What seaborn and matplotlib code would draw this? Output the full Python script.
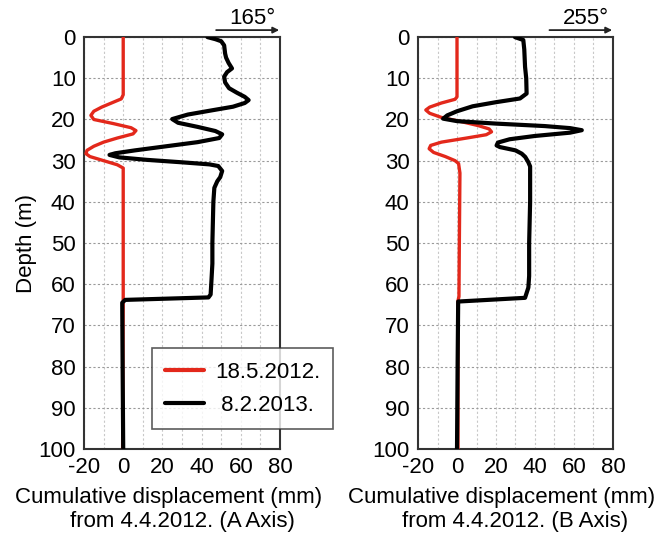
import matplotlib
matplotlib.use("Agg")
import matplotlib.pyplot as plt
import pandas as pd
import seaborn as sns
from matplotlib.ticker import MultipleLocator

# Data (depth in m, displacement in mm)
red_a_depth = [0, 14, 15, 16, 17, 18, 19, 20, 21, 22, 22.7, 23.5, 24.5, 25.5, 26.5, 27.5, 28.3, 29, 30, 31, 31.8, 33, 64, 100]
red_a_disp = [0, 0, -1, -6, -11, -15, -16.5, -15, -5, 4, 6.5, 5, -3, -10, -15, -18.5, -19, -17, -10, -3, 0, 0, 0, -0.3]

black_a_depth = [0, 0.5, 1, 2, 4, 5, 6.3, 7.6, 8.5, 9.6, 11, 12.4, 13.5, 14.5, 15.3, 16, 16.9, 17.8, 18.8, 19.9,
                 20.8, 21.8, 22.8, 23.6, 24.5, 25.5, 26.5, 27.5, 28.2, 28.6, 29.2, 29.8, 30.4, 30.9, 31.3, 32.5,
                 34, 35, 36.6, 40, 50, 55, 59.3, 62.5, 63.2, 63.8, 64.5, 80, 100]
black_a_disp = [43, 47, 50, 51.5, 52, 52.5, 53.8, 55.5, 53, 51.5, 52, 54, 58, 62, 64, 62, 56, 45, 33, 25,
                28, 38, 47, 50.5, 49, 38, 22, 6, -4, -7, -2, 12, 30, 44, 48.5, 50.5,
                49.5, 48, 46.5, 46, 45.5, 45.5, 45, 44.6, 43.5, 1, -0.5, -0.3, 0]

red_b_depth = [0, 14.5, 15.1, 16, 17, 17.7, 18.5, 19.5, 20.5, 21.5, 22.3, 23, 23.7, 24.5, 25.5, 26.3, 27.1, 28, 29, 30, 30.7, 33, 50, 63, 64, 100]
red_b_disp = [0, 0, -1, -8, -14, -16, -14, -8, 2, 11, 16.5, 17.7, 15, 5, -8, -13.5, -14.3, -12, -6, -1, 0.8, 1.5, 1.2, 1, 0.5, 0.5]

black_b_depth = [0, 0.7, 3, 7.2, 10, 13.7, 14.9, 15.8, 16.8, 18, 19, 19.8, 20.4, 21, 21.6, 22.1, 22.6, 23.2, 24,
                 24.8, 25.6, 26.3, 26.7, 27, 27.5, 28.3, 29.1, 30.3, 31.4, 40, 50, 58, 60.8, 63.3, 64.2, 80, 100]
black_b_disp = [29.7, 34, 34.5, 34.9, 35.5, 35.7, 32.3, 20, 8, 0, -5, -7.1, 0, 20, 45, 58, 64, 58, 40,
                27, 21, 20.3, 22, 25, 30, 33.2, 35, 36.5, 37.5, 37.5, 37, 37, 36.6, 34.9, 0.6, 0.3, 0]

labels = ["18.5.2012.", " 8.2.2013."]
panels = [
    ("A", "165°", red_a_depth, red_a_disp, black_a_depth, black_a_disp),
    ("B", "255°", red_b_depth, red_b_disp, black_b_depth, black_b_disp),
]

sns.set_style("white", rc={"text.color": "black", "axes.labelcolor": "black",
                           "xtick.color": "black", "ytick.color": "black"})
plt.rcParams["font.family"] = ["Liberation Sans", "DejaVu Sans"]
plt.rcParams["axes.unicode_minus"] = False

fig = plt.figure(figsize=(6.7, 5.37), dpi=100)
ax_a = fig.add_axes([0.1254, 0.1639, 0.2925, 0.767])
ax_b = fig.add_axes([0.6239, 0.1639, 0.2910, 0.767])

for ax, (axis_name, angle, rd, rx, bd, bx) in zip([ax_a, ax_b], panels):
    red = pd.DataFrame({"depth": rd, "disp": rx})
    black = pd.DataFrame({"depth": bd, "disp": bx})
    sns.lineplot(data=red, x="disp", y="depth", sort=False, estimator=None,
                 color="#e3281b", lw=2.4, ax=ax, label=labels[0], zorder=3)
    sns.lineplot(data=black, x="disp", y="depth", sort=False, estimator=None,
                 color="black", lw=3, ax=ax, label=labels[1], zorder=4)

    ax.set_xlim(-20, 80)
    ax.set_ylim(100, 0)
    ax.xaxis.set_major_locator(MultipleLocator(20))
    ax.xaxis.set_minor_locator(MultipleLocator(10))
    ax.yaxis.set_major_locator(MultipleLocator(10))
    ax.grid(True, which="major", axis="y", color="#9a9a9a", ls=(0, (2, 2)), lw=0.8)
    ax.grid(True, which="both", axis="x", color="#c8c8c8", ls=(0, (2, 2)), lw=0.8)
    ax.tick_params(axis="both", which="both", length=0, labelsize=16, pad=6)
    for s in ax.spines.values():
        s.set_color("#333333")
        s.set_linewidth(1.5)

    # two-line axis title; the first line sits a little left of centre
    ax.set_xlabel("")
    ax.text(0.43, -0.117, "Cumulative displacement (mm)", transform=ax.transAxes,
            ha="center", va="center", fontsize=16)
    ax.text(0.5, -0.175, "from 4.4.2012. (%s Axis)" % axis_name, transform=ax.transAxes,
            ha="center", va="center", fontsize=16)
    ax.set_ylabel("")

    # direction arrow above the plot
    ax.annotate("", xy=(1.01, 1.017), xytext=(0.66, 1.017), xycoords="axes fraction",
                arrowprops=dict(arrowstyle="-|>", color="#222222", lw=1.3, mutation_scale=9))
    ax.text(0.86, 1.032, angle, transform=ax.transAxes, ha="center", va="baseline", fontsize=16)
    ax.get_legend().remove()

ax_a.set_ylabel("Depth (m)", fontsize=16, labelpad=1)

handles, _ = ax_a.get_legend_handles_labels()
leg = fig.legend(handles, labels, loc="lower left", bbox_to_anchor=(0.227, 0.201, 0.270, 0.149),
                 mode="expand", fontsize=16, frameon=True, fancybox=False, handlelength=1.75,
                 borderpad=0.6, labelspacing=0.55, handletextpad=0.5, borderaxespad=0)
leg.get_frame().set_edgecolor("#333333")
leg.get_frame().set_linewidth(1.2)
for h in leg.legend_handles:
    h.set_linewidth(3)

fig.savefig("out.png", dpi=100)
